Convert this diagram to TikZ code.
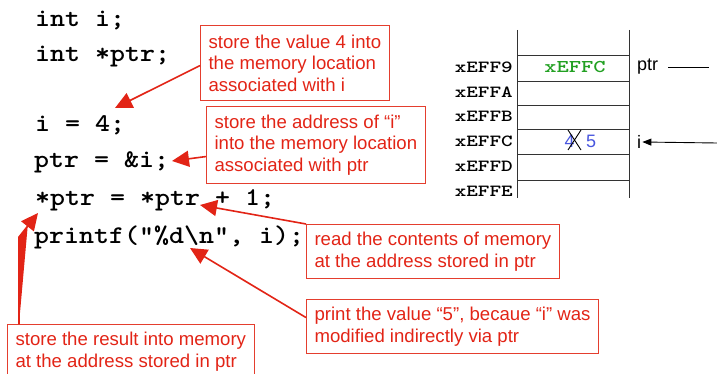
\documentclass[tikz,border=0pt]{standalone}
\usepackage{fontspec}
\setmainfont{Liberation Sans}
\usetikzlibrary{arrows.meta}
\definecolor{callred}{RGB}{226,36,22}
\definecolor{boxred}{RGB}{228,62,46}
\definecolor{memgreen}{RGB}{34,160,34}
\definecolor{memblue}{RGB}{72,86,222}
\newcommand\codesc[1]{\scalebox{1.12}[1]{#1}}
\newcommand\addrsc[1]{\scalebox{1.3}[1]{#1}}
\begin{document}
\begin{tikzpicture}[x=1pt,y=-1pt,
  code/.style={anchor=base west, inner sep=0pt, font=\ttfamily\bfseries\fontsize{25.5}{25.5}\selectfont},
  callout/.style={draw=boxred, line width=1.1pt, text=callred, align=left, anchor=north west,
    inner xsep=8pt, inner ysep=0pt, font=\fontsize{18.6}{21.5}\selectfont},
  redarrow/.style={draw=callred, fill=callred, line width=1.6pt, -{Triangle[length=17pt,width=16pt]}},
  addr/.style={anchor=east, inner sep=0pt, font=\ttfamily\bfseries\fontsize{17}{17}\selectfont},
  memline/.style={line width=0.9pt, draw=black!80},
  memlabel/.style={anchor=west, inner sep=0pt, font=\fontsize{18}{18}\selectfont},
]
\useasboundingbox (0,0) rectangle (717,374);
\clip (0,0) rectangle (717,374);

% code
\node[code] (c1) at (35,27) {\codesc{int i;}};
\node[code] (c2) at (35,62) {\codesc{int *ptr;}};
\node[code] (c3) at (35,132) {\codesc{i = 4;}};
\node[code] (c4) at (34,168) {\codesc{ptr = \&i;}};
\node[code] (c5) at (35,206) {\codesc{*ptr = *ptr + 1;}};
\node[code] (c6) at (34,243) {\codesc{printf(“\%d\textbackslash n”, i);}};

% callouts
\node[callout, minimum height=75pt] (b1) at (200,25) {store the value 4 into\\the memory location\\associated with i};
\node[callout, minimum height=77pt] (b2) at (206,106) {store the address of “i”\\into the memory location\\associated with ptr};
\node[callout, minimum height=54pt] (b3) at (306,224) {read the contents of memory\\at the address stored in ptr};
\node[callout, minimum height=54pt] (b4) at (306,299) {print the value “5”, becaue “i” was\\modified indirectly via ptr};
\node[callout, minimum height=54pt] (b5) at (7,324) {store the result into memory\\at the address stored in ptr};

% arrow targets
\coordinate (t1) at (115,108);
\coordinate (t2) at (172,161);
\coordinate (t3) at (200,205);
\coordinate (t4) at (190,248);
\coordinate (t5) at (38,213);
\coordinate (k5) at (19,237);

\draw[redarrow] ([yshift=-2.5pt]b1.west) -- (t1);
\draw[redarrow] ([yshift=-11.5pt]b2.west) -- (t2);
\draw[redarrow] (b3.north west) -- (t3);
\draw[redarrow] ([yshift=9pt]b4.west) -- (t4);
\draw[redarrow] ([xshift=12pt]b5.north west) -- (k5) -- (t5);

% memory table
\draw[memline] (517,30) -- (517,198);
\draw[memline] (629,30) -- (629,198);
\foreach \yy in {55,81,105,129,154,180} \draw[memline] (517,\yy) -- (629,\yy);

\node[addr] (a9) at (513,67) {\addrsc{xEFF9}};
\node[addr] (aA) at (513,92.3) {\addrsc{xEFFA}};
\node[addr] (aB) at (513,116.7) {\addrsc{xEFFB}};
\node[addr] (aC) at (513,141) {\addrsc{xEFFC}};
\node[addr] (aD) at (513,166) {\addrsc{xEFFD}};
\node[addr] (aE) at (513,191) {\addrsc{xEFFE}};

\node[inner sep=0pt, text=memgreen, font=\ttfamily\bfseries\fontsize{18}{18}\selectfont] (v9) at (575,67) {\addrsc{xEFFC}};
\node[inner sep=0pt, text=memblue, font=\fontsize{18}{18}\selectfont] (v4) at (569.5,141) {4};
\node[inner sep=0pt, text=memblue, font=\fontsize{18}{18}\selectfont] (v5) at (591,141) {5};
\draw[line width=0.9pt] (568,130) -- (581,150) (581,130) -- (568,150);

\node[memlabel] (lp) at (637,67) {ptr};
\node[memlabel] (li) at (637,142) {i};
\coordinate (pend) at (709,67);
\coordinate (istart) at (717,143);
\draw[line width=0.9pt] ([xshift=10pt]lp.east) -- (pend);
\draw[line width=0.9pt, -{Triangle[length=9pt,width=7pt]}] (istart) -- ([xshift=1pt]li.east);
\end{tikzpicture}
\end{document}
